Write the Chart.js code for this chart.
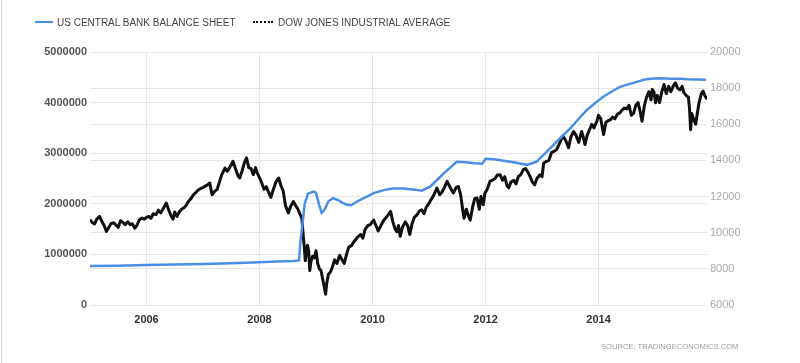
<!DOCTYPE html>
<html>
<head>
<meta charset="utf-8">
<script src="https://cdn.jsdelivr.net/npm/chart.js@4.4.0/dist/chart.umd.min.js"></script>
<style>
  html, body { margin: 0; padding: 0; background: #fff; }
  #wrap { position: relative; width: 800px; height: 363px; overflow: hidden; }
  #frame { position: absolute; left: 1px; top: 0; width: 1px; height: 363px; background: #d8d8d8; }
  canvas { position: absolute; left: 0; top: 0; }
  .leg { position: absolute; top: 17px; font: 10px "Liberation Sans", Arial, sans-serif; color: #444; white-space: nowrap; line-height: 12px; }
  .leg .sw { display: inline-block; width: 18px; height: 0; vertical-align: middle; margin-right: 4px; position: relative; top: -1px; }
  #src { position: absolute; left: 601px; top: 342px; font: 7.6px "Liberation Sans", Arial, sans-serif; color: #9a9a9a; white-space: nowrap; }
</style>
</head>
<body>
<div id="wrap">
  <canvas id="c" width="800" height="363"></canvas>
  <div id="frame"></div>
  <div class="leg" style="left:35px"><span class="sw" style="border-top:2px solid #4a8fe6"></span>US CENTRAL BANK BALANCE SHEET</div>
  <div class="leg" style="left:253px"><span class="sw" style="border-top:2px dotted #111;width:20px;margin-right:5px"></span>DOW JONES INDUSTRIAL AVERAGE</div>
  <div id="src">SOURCE: TRADINGECONOMICS.COM</div>
</div>
<script>
// ---- data ----
const yearTicks = [2006, 2008, 2010, 2012, 2014];
const leftTicks = [0, 1000000, 2000000, 3000000, 4000000, 5000000];
const rightTicks = [6000, 8000, 10000, 12000, 14000, 16000, 18000, 20000];

const fedDates = [2005.00,2005.50,2006.00,2006.50,2007.00,2007.50,2008.00,2008.30,2008.60,2008.70,2008.72,2008.76,2008.80,2008.86,2008.95,2009.00,2009.05,2009.10,2009.15,2009.22,2009.30,2009.35,2009.40,2009.47,2009.55,2009.62,2009.75,2009.90,2010.02,2010.20,2010.35,2010.55,2010.75,2010.87,2011.02,2011.15,2011.30,2011.49,2011.65,2011.80,2011.94,2012.00,2012.15,2012.32,2012.50,2012.73,2012.90,2013.05,2013.20,2013.35,2013.50,2013.65,2013.79,2013.95,2014.09,2014.25,2014.38,2014.55,2014.68,2014.80,2014.91,2015.10,2015.27,2015.45,2015.56,2015.75,2015.90];
const fedValues = [770000,778000,790000,800000,812000,825000,845000,858000,870000,880000,1200000,1600000,2000000,2200000,2240000,2220000,2000000,1820000,1880000,2050000,2110000,2090000,2070000,2020000,1980000,1970000,2060000,2140000,2210000,2270000,2300000,2300000,2280000,2260000,2340000,2480000,2640000,2830000,2820000,2800000,2790000,2890000,2880000,2850000,2820000,2770000,2830000,2990000,3160000,3330000,3490000,3680000,3850000,4000000,4120000,4230000,4310000,4370000,4410000,4450000,4470000,4480000,4470000,4470000,4460000,4455000,4450000];

const dowDates = [
2005.00,2005.04,2005.08,2005.12,2005.17,2005.21,2005.25,2005.29,2005.33,2005.37,2005.42,2005.46,2005.50,2005.54,2005.58,2005.62,2005.67,2005.71,2005.75,2005.79,2005.83,2005.87,2005.92,2005.96,
2006.00,2006.04,2006.08,2006.12,2006.17,2006.21,2006.25,2006.29,2006.35,2006.40,2006.44,2006.47,2006.50,2006.54,2006.58,2006.62,2006.67,2006.71,2006.74,2006.79,2006.83,2006.88,2006.92,2006.96,
2007.00,2007.04,2007.08,2007.12,2007.16,2007.21,2007.25,2007.29,2007.33,2007.39,2007.43,2007.47,2007.53,2007.58,2007.62,2007.65,2007.69,2007.73,2007.77,2007.81,2007.85,2007.89,2007.93,2007.96,
2008.00,2008.04,2008.08,2008.12,2008.16,2008.20,2008.24,2008.29,2008.34,2008.38,2008.42,2008.46,2008.51,2008.55,2008.60,2008.64,2008.68,2008.72,2008.75,2008.77,2008.79,2008.81,2008.83,2008.85,2008.87,2008.89,2008.91,2008.94,2008.97,
2009.00,2009.03,2009.06,2009.09,2009.12,2009.14,2009.17,2009.19,2009.22,2009.25,2009.29,2009.33,2009.37,2009.42,2009.46,2009.50,2009.54,2009.58,2009.63,2009.67,2009.71,2009.75,2009.79,2009.83,2009.87,2009.92,2009.96,
2010.02,2010.06,2010.10,2010.15,2010.19,2010.23,2010.28,2010.32,2010.36,2010.40,2010.43,2010.46,2010.49,2010.53,2010.58,2010.62,2010.66,2010.70,2010.74,2010.79,2010.83,2010.87,2010.91,2010.95,2010.99,
2011.03,2011.08,2011.14,2011.19,2011.23,2011.28,2011.32,2011.36,2011.40,2011.43,2011.48,2011.52,2011.56,2011.60,2011.62,2011.66,2011.70,2011.73,2011.77,2011.81,2011.85,2011.89,2011.92,2011.96,2011.99,
2012.03,2012.08,2012.12,2012.17,2012.21,2012.26,2012.30,2012.34,2012.38,2012.41,2012.45,2012.50,2012.54,2012.58,2012.62,2012.67,2012.71,2012.75,2012.79,2012.83,2012.87,2012.91,2012.96,
2013.00,2013.03,2013.08,2013.12,2013.17,2013.21,2013.26,2013.29,2013.33,2013.37,2013.42,2013.47,2013.51,2013.56,2013.60,2013.65,2013.70,2013.73,2013.76,2013.80,2013.84,2013.88,2013.92,2013.97,
2014.00,2014.04,2014.09,2014.13,2014.17,2014.21,2014.25,2014.29,2014.33,2014.38,2014.42,2014.46,2014.50,2014.54,2014.58,2014.62,2014.66,2014.70,2014.73,2014.77,2014.81,2014.85,2014.89,2014.93,2014.95,2014.98,
2015.01,2015.04,2015.08,2015.12,2015.16,2015.20,2015.24,2015.28,2015.32,2015.36,2015.40,2015.44,2015.48,2015.51,2015.55,2015.59,2015.61,2015.63,2015.65,2015.68,2015.72,2015.74,2015.78,2015.82,2015.85,2015.88,2015.92];
const dowValues = [
10730,10560,10480,10750,10900,10620,10400,10070,10280,10500,10550,10420,10300,10660,10580,10450,10600,10450,10500,10250,10400,10700,10810,10750,
10850,10900,10800,11050,11000,11250,11100,11300,11640,11200,10900,10750,11150,10900,11150,11300,11400,11550,11730,11900,12100,12250,12380,12450,
12500,12580,12650,12750,12100,12300,12400,12800,13200,13580,13400,13600,13950,13500,13150,13030,13400,13850,14140,13600,13550,13210,13600,13300,
13050,12750,12400,12550,12250,11950,12350,12800,13030,12600,12300,11500,11090,11450,11730,11500,11300,11000,10800,10000,9300,8450,8900,9300,9000,7900,8400,8700,8600,
9000,8300,8000,7900,7400,7100,6600,7200,7700,7800,8100,8500,8300,8750,8500,8300,8800,9200,9300,9500,9650,9800,9900,9700,10200,10400,10450,
10700,10400,10100,10400,10650,10800,11000,11180,10600,10200,10050,10400,9800,10300,10600,10400,9900,10500,10850,11000,11200,11270,11050,11400,11580,
11800,12050,12470,12100,12250,12550,12840,12600,12350,12200,12500,12560,12100,11200,10800,11300,10900,10700,11400,11900,11920,11300,12000,11550,12200,
12400,12850,12900,13000,13200,13210,12900,13100,12600,12480,12800,12900,12700,13100,13200,13490,13550,13350,13100,12800,12650,13000,13200,
13100,13860,13950,14000,14450,14500,14600,14800,15100,15350,15100,14700,15300,15600,15400,15000,15600,15300,14880,15400,15700,16000,15800,16170,
16500,16300,15430,16100,16200,16250,16400,16300,16550,16640,16800,16900,16850,17050,16500,16600,17050,17200,16800,16170,17000,17500,17800,17350,17930,17800,
17190,17600,17200,17800,18200,17700,18100,17800,18100,18300,18000,17900,18100,17750,17600,17500,16900,15700,16600,16300,16000,16450,17200,17700,17840,17600,17380];

// ---- chart ----
const toXY = (xs, ys) => xs.map((x, i) => ({ x: x, y: ys[i] }));
Chart.defaults.font.family = '"Liberation Sans", Arial, sans-serif';
const gridColor = '#e6e6e6';

new Chart(document.getElementById('c'), {
  type: 'line',
  data: {
    datasets: [
      { label: 'US CENTRAL BANK BALANCE SHEET', data: toXY(fedDates, fedValues), yAxisID: 'yL',
        borderColor: '#4a8fe6', borderWidth: 2.5, pointRadius: 0, tension: 0 },
      { label: 'DOW JONES INDUSTRIAL AVERAGE', data: toXY(dowDates, dowValues), yAxisID: 'yR',
        borderColor: '#111111', borderWidth: 3, pointRadius: 0, tension: 0, borderJoinStyle: 'round' }
    ]
  },
  options: {
    responsive: false,
    animation: false,
    layout: { padding: { top: 52, left: 0, right: 0, bottom: 0 } },
    plugins: { legend: { display: false }, tooltip: { enabled: false } },
    scales: {
      x: {
        type: 'linear', min: 2005, max: 2015.92,
        afterBuildTicks: (s) => { s.ticks = yearTicks.map(v => ({ value: v })); },
        afterFit: (s) => { s.height = 58; },
        grid: { color: gridColor, drawTicks: false },
        border: { display: false },
        ticks: { padding: 8, color: '#333', font: { size: 11, weight: 'bold' }, maxRotation: 0, autoSkip: false,
                 callback: (v) => String(v) }
      },
      yL: {
        type: 'linear', position: 'left', min: 0, max: 5000000,
        afterBuildTicks: (s) => { s.ticks = leftTicks.map(v => ({ value: v })); },
        afterFit: (s) => { s.width = 90; },
        grid: { color: gridColor, drawTicks: false },
        border: { display: false },
        ticks: { padding: 3, color: '#555', font: { size: 11, weight: 'bold' }, callback: (v) => String(v) }
      },
      yR: {
        type: 'linear', position: 'right', min: 6000, max: 20000,
        afterBuildTicks: (s) => { s.ticks = rightTicks.map(v => ({ value: v })); },
        afterFit: (s) => { s.width = 93; },
        grid: { color: gridColor, drawTicks: false },
        border: { display: false },
        ticks: { padding: 3, color: '#aaaaaa', font: { size: 11 }, callback: (v) => String(v) }
      }
    }
  }
});
</script>
</body>
</html>
